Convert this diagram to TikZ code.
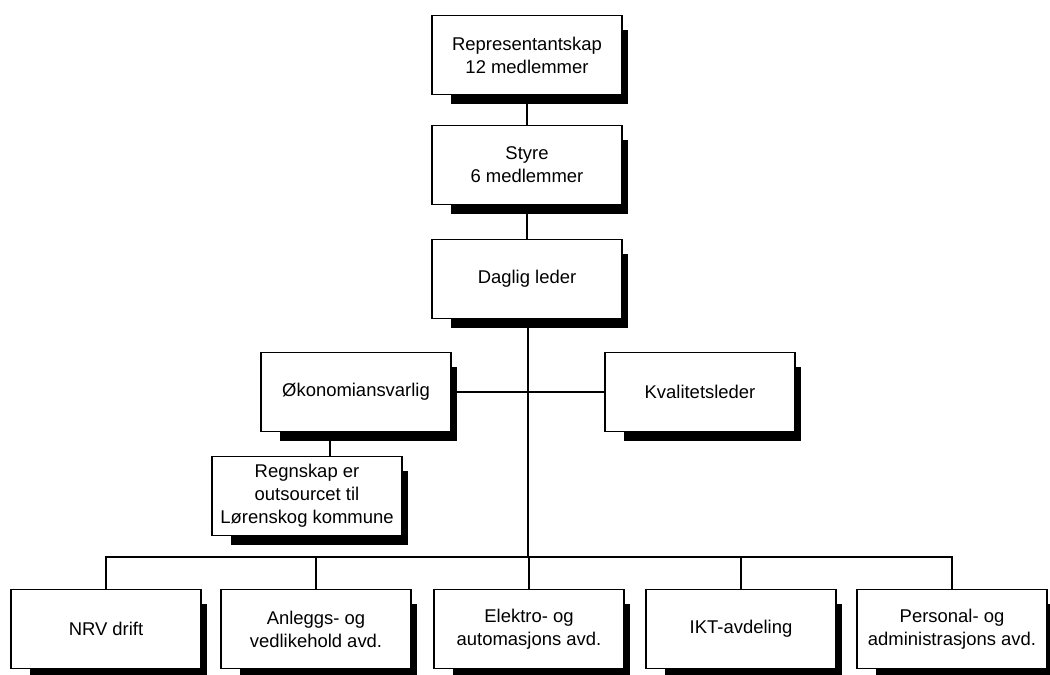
\documentclass[tikz,border=0pt]{standalone}
\usepackage{fontspec}
\setmainfont{Liberation Sans}
\usetikzlibrary{positioning, shadows}

\begin{document}
\begin{tikzpicture}[
    x=0.02cm, y=-0.02cm, % one unit = one pixel of the layout
    unit/.style={ % Style for the organisation boxes
        rectangle,
        draw=black,
        line width=1pt,
        fill=white,
        minimum width=3.8cm,
        minimum height=1.58cm,
        align=center,
        font=\fontsize{10.5}{13}\selectfont,
        drop shadow={shadow xshift=0.27cm, shadow yshift=-0.26cm,
                     shadow scale=0.93, fill=black, opacity=1}
    },
    % Connector style
    link/.style={line width=1.5pt, draw=black}
]
\useasboundingbox (0,0) rectangle (1050,675);

% Top chain
\node[unit] (rep) at (527,55) {Representantskap\\12 medlemmer};
\node[unit] (styre) at (527,165) {Styre\\6 medlemmer};
\node[unit] (daglig) at (527,279) {Daglig leder};

% Staff level
\node[unit] (okonomi) at (356,392) {Økonomiansvarlig};
\node[unit] (kvalitet) at (700,392) {Kvalitetsleder};
\node[unit] (regnskap) at (307,496) {Regnskap er\\outsourcet til\\Lørenskog kommune};

% Departments
\node[unit] (nrv) at (106,629) {NRV drift};
\node[unit] (anlegg) at (316,629) {Anleggs- og\\vedlikehold avd.};
\node[unit] (elektro) at (529,629) {Elektro- og\\automasjons avd.};
\node[unit] (ikt) at (741,629) {IKT-avdeling};
\node[unit] (personal) at (952,629) {Personal- og\\administrasjons avd.};

% Connectors
\coordinate (bus) at (528,557);
\draw[link] (rep) -- (styre);
\draw[link] (styre) -- (daglig);
\draw[link] (daglig.south -| bus) -- (bus);
\draw[link] (okonomi) -- (kvalitet);
\draw[link] ([xshift=-0.52cm]okonomi.south) -- ([xshift=-0.52cm]okonomi.south |- regnskap.north);
\draw[link] (nrv.north) |- (personal.north |- bus) -- (personal.north);
\foreach \dept in {anlegg, elektro, ikt}
    \draw[link] (\dept.north) -- (\dept.north |- bus);

\end{tikzpicture}
\end{document}
